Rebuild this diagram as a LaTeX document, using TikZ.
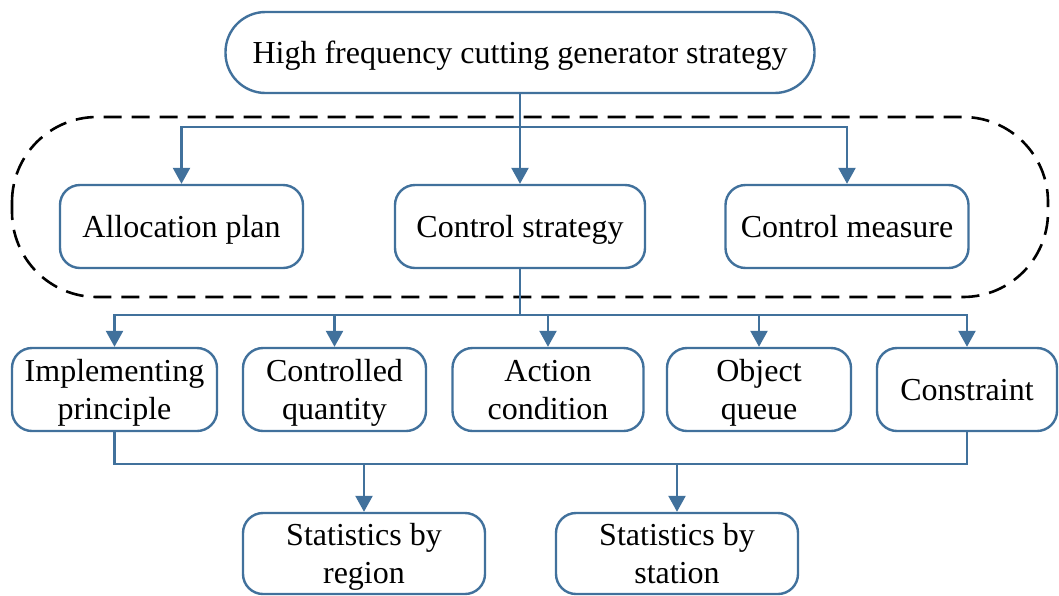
\documentclass[tikz,border=0pt]{standalone}
\usepackage{fontspec}
\setmainfont{Liberation Serif}
\usetikzlibrary{arrows.meta}
\definecolor{lineblue}{HTML}{41719C}
\newcommand\mystrut{\rule[-8.5pt]{0pt}{38pt}}
\begin{document}
\begin{tikzpicture}[x=1pt,y=-1pt,
  box/.style={draw=lineblue,line width=2.4pt,rounded corners=20pt,align=center,
    inner sep=0pt,font=\fontsize{32}{38}\selectfont,text=black},
  arr/.style={draw=lineblue,line width=2.4pt,-{Triangle[length=16pt,width=17pt]}},
  ln/.style={draw=lineblue,line width=2.4pt}]
\useasboundingbox (0,0) rectangle (1059,595);
\fill[white] (0,0) rectangle (1059,595);
% dashed group
\draw[black,line width=2.6pt,dash pattern=on 18pt off 10pt,rounded corners=85pt] (12,117) rectangle (1048,297);
% nodes
\node[box,rounded corners=40pt,minimum width=589pt,minimum height=81pt] (top) at (520,52.5) {\mystrut High frequency cutting generator strategy};
\node[box,minimum width=243pt,minimum height=83pt] (ap) at (181.5,226.5) {\mystrut Allocation plan};
\node[box,minimum width=250pt,minimum height=83pt] (cs) at (520,226.5) {\mystrut Control strategy};
\node[box,minimum width=243pt,minimum height=83pt] (cm) at (847,226.5) {\mystrut Control measure};
\node[box,minimum width=205pt,minimum height=83pt] (ip) at (114.5,389.5) {\mystrut Implementing\\\mystrut principle};
\node[box,minimum width=183pt,minimum height=83pt] (cq) at (334.5,389.5) {\mystrut Controlled\\\mystrut quantity};
\node[box,minimum width=191pt,minimum height=83pt] (ac) at (548,389.5) {\mystrut Action\\\mystrut condition};
\node[box,minimum width=184pt,minimum height=83pt] (oq) at (759,389.5) {\mystrut Object\\\mystrut queue};
\node[box,minimum width=180pt,minimum height=83pt] (con) at (967,389.5) {\mystrut Constraint};
\node[box,minimum width=242pt,minimum height=81pt] (sr) at (364,553.5) {\mystrut Statistics by\\\mystrut region};
\node[box,minimum width=242pt,minimum height=81pt] (ss) at (677,553.5) {\mystrut Statistics by\\\mystrut station};
% connectors
\coordinate (b1) at (520,127);
\coordinate (b2) at (520,315);
\coordinate (b3) at (364,464);
\coordinate (b4) at (677,464);
\draw[arr] (top.south) -- (cs.north);
\draw[arr] (b1) -| (ap.north);
\draw[arr] (b1) -| (cm.north);
\draw[ln] (cs.south) -- (b2);
\draw[arr] (b2) -| (ip.north);
\draw[arr] (b2) -| (cq.north);
\draw[arr] (b2) -| (ac.north);
\draw[arr] (b2) -| (oq.north);
\draw[arr] (b2) -| (con.north);
\draw[ln] (ip.south) |- (b3) -- (b4) -| (con.south);
\draw[arr] (b3) -- (sr.north);
\draw[arr] (b4) -- (ss.north);
\end{tikzpicture}
\end{document}
